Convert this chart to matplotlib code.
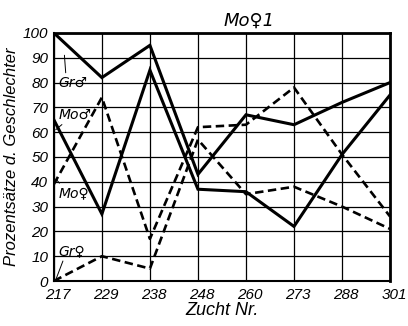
import matplotlib
matplotlib.use("Agg")
import matplotlib.pyplot as plt
from matplotlib.transforms import ScaledTranslation

zucht = ["217", "229", "238", "248", "260", "273", "288", "301"]
gr_m = [100, 82, 95, 43, 67, 63, 72, 80]
mo_m = [65, 27, 85, 37, 36, 22, 51, 75]
mo_f = [39, 74, 17, 62, 63, 78, 51, 26]
gr_f = [0, 10, 5, 57, 35, 38, 30, 21]
yticks = [0, 10, 20, 30, 40, 50, 60, 70, 80, 90, 100]

plt.rcParams['font.family'] = ['Liberation Sans', 'DejaVu Sans']

fig = plt.figure(figsize=(4.08, 3.26), dpi=100)
ax = fig.add_axes([0.132, 0.138, 0.824, 0.761])

x = list(range(len(zucht)))
ax.plot(x, gr_m, color='black', lw=2.2, solid_joinstyle='miter', zorder=3)
ax.plot(x, mo_m, color='black', lw=2.2, solid_joinstyle='miter', zorder=3)
ax.plot(x, mo_f, color='black', lw=1.9, dashes=(3.2, 1.7), zorder=3)
ax.plot(x, gr_f, color='black', lw=1.9, dashes=(3.2, 1.7), zorder=3)

ax.set_xlim(0, len(zucht) - 1)
ax.set_ylim(0, 100)
ax.set_xticks(x)
ax.set_xticklabels(zucht)
ax.set_yticks(yticks)
ax.set_yticklabels([str(v) for v in yticks])
ax.tick_params(length=0, labelsize=11)
ax.tick_params(axis='x', pad=5)
ax.tick_params(axis='y', pad=4)
off = ScaledTranslation(4 / 100, 0, fig.dpi_scale_trans)
for lab in ax.get_xticklabels():
    lab.set_fontstyle('italic')
    lab.set_transform(lab.get_transform() + off)
for lab in ax.get_yticklabels():
    lab.set_fontstyle('italic')
ax.grid(True, color='black', lw=0.9)
for s in ax.spines.values():
    s.set_linewidth(1.5)
ax.spines['top'].set_linewidth(2.0)
ax.spines['right'].set_linewidth(2.0)

ax.set_xlabel("Zucht Nr.", fontsize=13, style='italic', labelpad=0)
ax.set_ylabel("Prozentsätze d. Geschlechter", fontsize=12, style='italic', labelpad=3)
ax.set_title("Mo♀1", fontsize=13, style='italic', pad=5, x=0.58, family=['DejaVu Sans'])

# series labels with leader lines
tk = dict(fontsize=10, style='italic', zorder=5, family=['DejaVu Sans'])
ap = dict(arrowstyle='-', lw=0.7, color='black', shrinkA=0, shrinkB=0)
ax.annotate("Gr♂", xy=(0.22, 91), xytext=(0.1, 80), ha='left', va='center',
            arrowprops=dict(relpos=(0.25, 1.0), **ap), **tk)
ax.annotate("Mo♂", xy=(0.04, 61), xytext=(0.1, 67), ha='left', va='center',
            arrowprops=dict(relpos=(0.2, 0.0), **ap), **tk)
ax.annotate("Mo♀", xy=(0.05, 41), xytext=(0.1, 35.5), ha='left', va='center',
            arrowprops=dict(relpos=(0.1, 1.0), **ap), **tk)
ax.annotate("Gr♀", xy=(0.05, 1), xytext=(0.1, 12), ha='left', va='center',
            arrowprops=dict(relpos=(0.2, 0.0), **ap), **tk)

fig.savefig("out.png", dpi=100)
